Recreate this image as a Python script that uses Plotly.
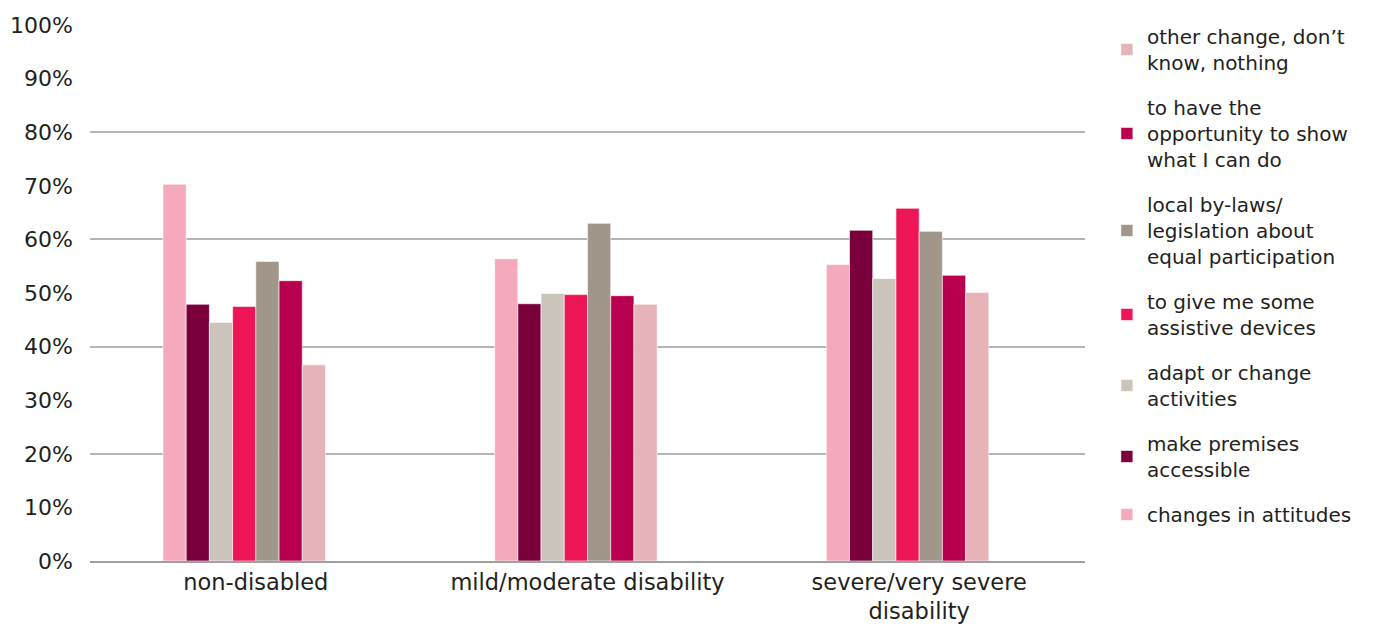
import plotly.graph_objects as go

categories = ["non-disabled", "mild/moderate disability", "severe/very severe<br>disability"]

series_names = [
    "changes in attitudes",
    "make premises<br>accessible",
    "adapt or change<br>activities",
    "to give me some<br>assistive devices",
    "local by-laws/<br>legislation about<br>equal participation",
    "to have the<br>opportunity to show<br>what I can do",
    "other change, don’t<br>know, nothing",
]

attitudes = [0.703, 0.564, 0.553]
premises = [0.479, 0.480, 0.617]
adapt = [0.445, 0.499, 0.527]
assistive = [0.475, 0.497, 0.658]
bylaws = [0.559, 0.630, 0.615]
opportunity = [0.523, 0.495, 0.533]
other = [0.366, 0.479, 0.501]

series_values = [attitudes, premises, adapt, assistive, bylaws, opportunity, other]
colors = ["#F5A9BC", "#7A003C", "#CBC4BA", "#ED1556", "#A1968A", "#B8004E", "#E5B3B8"]

y_ticks = [i / 10 for i in range(11)]
y_labels = [f"{i * 10}%" for i in range(11)]
grid_vals = [0.2, 0.4, 0.6, 0.8, 1.0]

FONT = "DejaVu Sans"
TEXT = "#231F20"

fig = go.Figure()
n = len(series_names)
for i, (name, vals, col) in enumerate(zip(series_names, series_values, colors)):
    fig.add_trace(go.Bar(
        x=categories, y=vals, name=name,
        marker=dict(color=col, line=dict(color="white", width=0.6)),
        legendgroup=str(i), legendrank=100 + (n - i),
    ))
# empty slot (reference groups leave one blank slot at the right)
fig.add_trace(go.Bar(x=categories, y=[None, None, None], showlegend=False,
                     hoverinfo="skip", marker=dict(color="rgba(0,0,0,0)")))

fig.update_layout(
    width=1370, height=620,
    margin=dict(l=82, r=293, t=17, b=67, autoexpand=False),
    paper_bgcolor="white", plot_bgcolor="white",
    barmode="group", bargap=0.44, bargroupgap=0,
    font=dict(family=FONT, color=TEXT),
    legend=dict(
        x=1.022, xanchor="left", y=1.015, yanchor="top",
        traceorder="grouped", tracegroupgap=16,
        font=dict(size=20, family=FONT, color=TEXT),
        itemwidth=30, maxheight=1000,
    ),
    showlegend=True,
)
fig.update_xaxes(
    showline=True, linecolor="#A0A0A0", linewidth=1.5, automargin=False,
    ticks="", tickfont=dict(size=22.5, family=FONT, color=TEXT),
    ticklabelstandoff=0,
)
fig.update_yaxes(
    range=[0, 1.0], tickvals=y_ticks, ticktext=y_labels, automargin=False,
    showgrid=False, zeroline=False, showline=False,
    tickfont=dict(size=22, family=FONT, color=TEXT), ticks="",
    ticklabelstandoff=16,
    minor=dict(tickvals=grid_vals, showgrid=True, gridcolor="#B5B5B5", gridwidth=1.5),
)

fig.write_html("out.html")
